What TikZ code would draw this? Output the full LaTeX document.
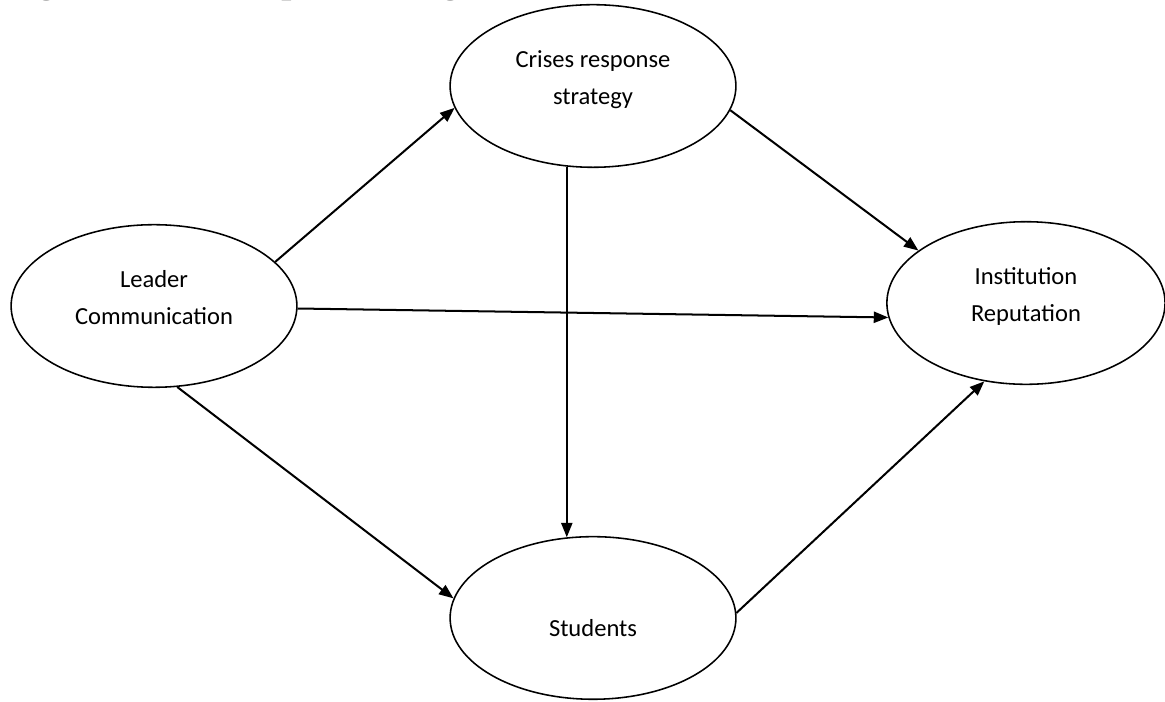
\documentclass[tikz,border=0pt]{standalone}
\usepackage{fontspec}
\setmainfont{Carlito}
\newfontfamily\capfont{Liberation Serif}
\usepackage{tikz}
\usetikzlibrary{shapes.geometric}
\usetikzlibrary{arrows.meta}
\tikzset{oval/.style={ellipse, draw, line width=0.7pt, minimum width=4.5cm, minimum height=2.56cm, align=center, font=\fontsize{11}{16.6}\selectfont, text height=20pt, text depth=3pt}}
\tikzset{link/.style={-{Triangle[length=6.5pt,width=5pt]}, line width=0.9pt}}
\begin{document}
\begin{tikzpicture}

\useasboundingbox (0,0) rectangle (18.343,-11.053);

% caption, cut at the top of the page
\node[anchor=base west, inner sep=0pt, font=\capfont\fontsize{19.3}{23}\selectfont] (cap) at (0,0.13) {Figure 1: Conceptual Diagram};

\node[oval] (lead) at (2.425,-4.818) {Leader\\Communication};
\node[oval] (crs) at (9.337,-1.354) {Crises response\\strategy};
\node[oval, minimum width=4.38cm] (inst) at (16.154,-4.771) {Institution\\Reputation};
\node[oval] (stud) at (9.337,-9.73) {\mbox{}\\Students};

\draw[link] (lead.20) -- (crs.189);
\draw[link] (crs.350) -- (inst.154);
\draw[link] (lead.359) -- (inst.186);
\draw[link] (crs.252) -- (stud.108);
\draw[link] (lead.286) -- (stud.172);
\draw[link] (stud.2) -- (inst.242);

\end{tikzpicture}
\end{document}
